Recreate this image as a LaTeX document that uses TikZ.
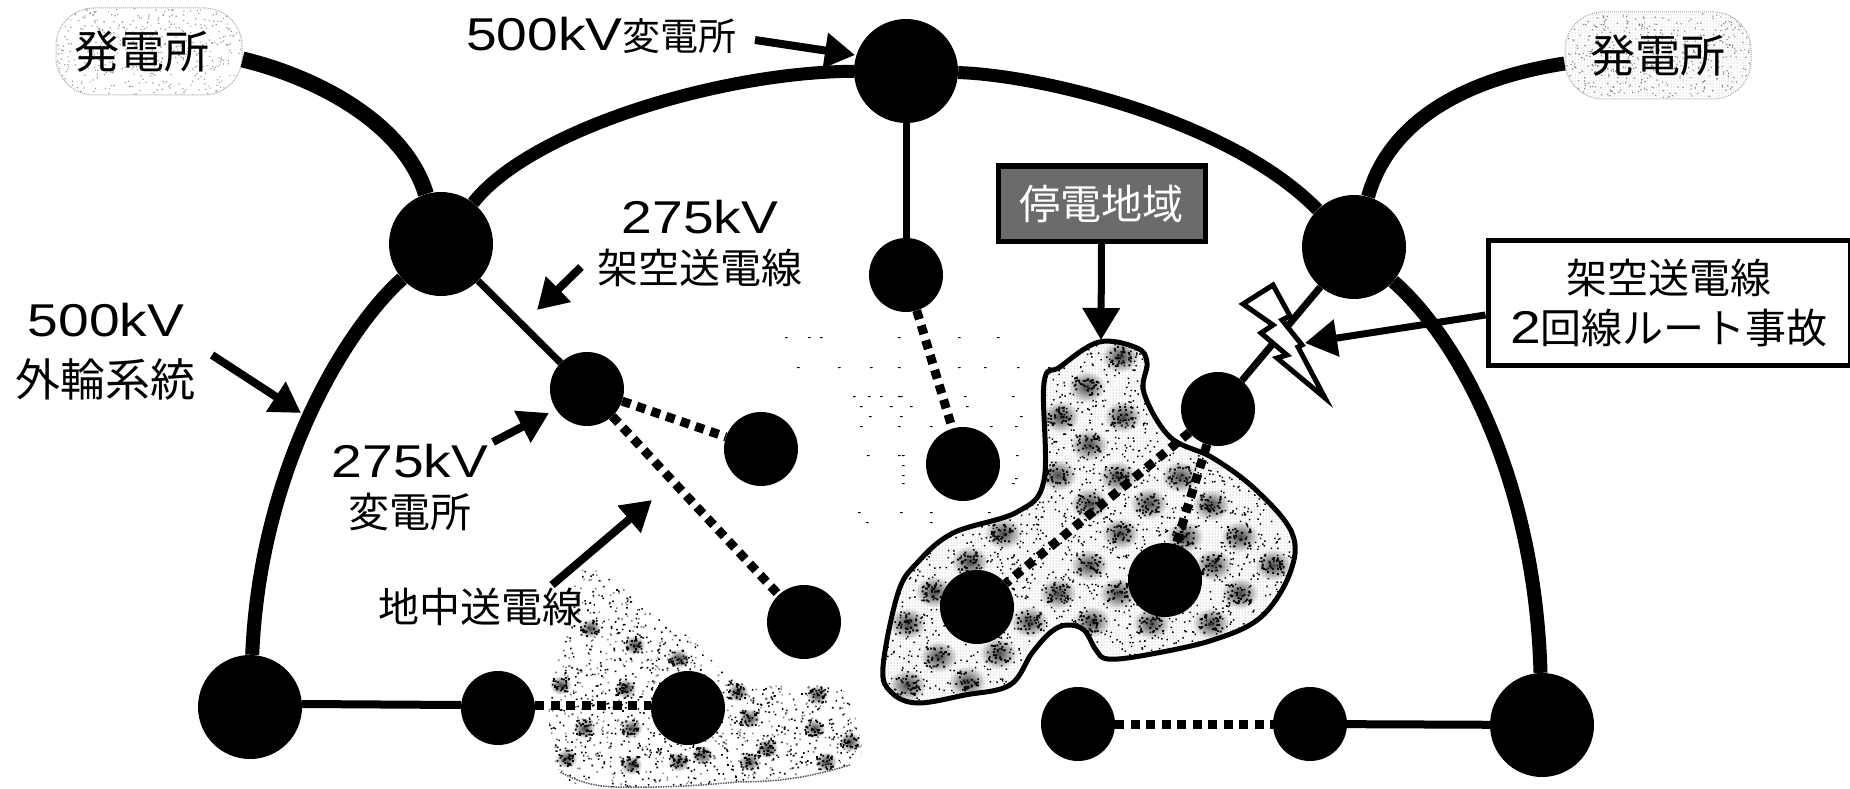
\documentclass[tikz,border=0pt]{standalone}
\usepackage{fontspec}
\setmainfont{Noto Sans CJK JP}
\newfontfamily\latf{Liberation Sans}[FakeStretch=1.2]
\usetikzlibrary{arrows.meta,calc,patterns}
\newcommand{\lv}[1]{{\latf\fontsize{46}{50}\selectfont #1}}
\tikzset{
  bigsub/.style={circle,fill=black,inner sep=0pt,minimum size=104pt},
  sub/.style={circle,fill=black,inner sep=0pt,minimum size=74pt},
  gen/.style={rectangle,rounded corners=38pt,draw=black!35,densely dotted,line width=1pt,inner sep=0pt,minimum width=186pt,minimum height=87pt,font=\fontsize{45}{50}\selectfont},
  lab/.style={align=center,inner sep=0pt,font=\fontsize{41}{50}\selectfont},
  main/.style={line width=14pt},
  feeder/.style={line width=7pt},
  cable/.style={line width=9pt,dash pattern=on 9pt off 6.5pt},
  callout/.style={line width=8pt,-{Triangle[length=30pt,width=34pt]}},
  patch/.style={inner color=black!75,outer color=white},
}
\def\blobone{plot[smooth cycle,tension=.6] coordinates {(1099,342)(1137,348)(1147,363)(1144,393)(1170,437)(1213,458)(1256,490)(1292,533)(1290,573)(1261,617)(1213,640)(1146,655)(1108,659)(1096,650)(1084,630)(1067,625)(1051,632)(1032,653)(1010,685)(965,695)(917,703)(891,692)(883,667)(898,593)(917,563)(953,533)(1017,512)(1044,480)(1044,383)(1060,367)}}
\def\blobtwo{plot[smooth cycle,tension=.6] coordinates {(581,570)(614,582)(655,615)(690,638)(720,668)(749,685)(838,688)(858,728)(850,765)(737,782)(614,787)(560,772)(549,695)(566,628)}}
\begin{document}
\begin{tikzpicture}[x=1pt,y=-1pt]
\useasboundingbox (0,0) rectangle (1850,789);
\fill[white] (0,0) rectangle (1850,789);
\pgfmathsetseed{11}
% generator speckle
\begin{scope}
\clip[rounded corners=38pt] (56,8) rectangle (242,95);
\fill[black!40] \foreach \i in {1,...,500}{ ({56+186*rnd},{8+87*rnd}) rectangle ++(1.2,1.2) };
\end{scope}
\begin{scope}
\clip[rounded corners=38pt] (1565,13) rectangle (1751,98);
\fill[pattern=dots,pattern color=black!35] (1565,13) rectangle (1751,98);
\fill[black!50] \foreach \i in {1,...,500}{ ({1565+186*rnd},{13+85*rnd}) rectangle ++(1.2,1.2) };
\end{scope}
% faint residue dots
\fill[black] \foreach \x/\y in {785/337,808/337,820/337,898/337,958/337,997/337,797/367,838/367,870/367,898/367,958/367,984/367,1017/367,1048/367,853/396,868/396,880/396,898/396,900/396,964/396,1012/396,860/406,890/406,910/406,966/406,869/416,900/416,1020/416,860/426,898/426,930/426,990/426,1015/426,867/455,898/455,902/455,1016/455,902/465,902/475,902/483,858/512,900/512,930/512,988/512,866/522,930/522,1015/478,1012/483}{ (\x,\y) rectangle ++(2.5,1) };
% outage area
\begin{scope}
\clip \blobone;
\foreach \zx/\zy in {565/110,495/200,440/290,570/290,500/375,435/465,560/470,690/470,500/550,625/550,755/555,320/640,565/640,700/650,815/650,250/725,500/735,760/735,885/735,175/815,435/820,560/820,815/820,120/910,375/905,505/905,630/910,755/910,185/1010,310/1000,120/1095,245/1085}{
  \shade[patch] ({850+.478*\zx},{320+\zy/3}) ellipse (19 and 16);
  \fill[black] \foreach \i in {1,...,30}{ ({850+.478*\zx+24*(rnd-.5)-1},{320+\zy/3+20*(rnd-.5)-1}) rectangle ++(2,2) };
}
\fill[pattern=dots,pattern color=black!45] (880,340) rectangle (1300,710);
\fill[black] \foreach \i in {1,...,3000}{ ({880+420*rnd},{340+370*rnd}) rectangle ++(1.5,1.5) };
\end{scope}
\draw[line width=5pt,line join=round] \blobone;
% underground-cable area
\begin{scope}
\clip \blobtwo;
\foreach \zx/\zy in {1000/700,1075/750,1150/790,950/870,1060/880,990/1000,1070/1000,1270/970,1385/900,1250/890,960/1090,1070/1110,1150/1100,1270/1100,1400/1100,1300/1060,1380/1000,1190/1080,1440/1040}{
  \shade[patch] ({.59*\zx},{395+\zy/3}) ellipse (11 and 10);
  \fill[black] \foreach \i in {1,...,30}{ ({.59*\zx+18*(rnd-.5)-1},{395+\zy/3+16*(rnd-.5)-1}) rectangle ++(1.8,1.8) };
}
\fill[black] \foreach \i in {1,...,1200}{ ({545+320*rnd},{565+225*rnd}) rectangle ++(1.6,1.6) };
\fill[black!50] \foreach \i in {1,...,800}{ ({545+320*rnd},{565+225*rnd}) rectangle ++(1.6,1.6) };
\end{scope}
\draw[line width=1.5pt,black!65,densely dotted] (850,765) to[bend left=8] (737,782) to[bend left=3] (614,787) to[bend left=12] (560,772);
% nodes
\node[bigsub] (top) at (906,71) {};
\node[bigsub] (nl) at (441,244) {};
\node[bigsub] (nr) at (1354,247) {};
\node[bigsub] (bl) at (250,707) {};
\node[bigsub] (br) at (1542,725) {};
\node[sub] (a) at (587,389) {};
\node[sub] (b) at (761,449) {};
\node[sub] (c) at (804,622) {};
\node[sub] (d) at (498,708) {};
\node[sub] (e) at (688,708) {};
\node[sub] (f) at (906,275) {};
\node[sub] (g) at (963,464) {};
\node[sub] (h) at (1218,409) {};
\node[sub] (i) at (977,607) {};
\node[sub] (j) at (1165,580) {};
\node[sub] (k) at (1078,724) {};
\node[sub] (l) at (1310,724) {};
\node[gen] (gl) at (149,51.5) {\kern-14pt\raisebox{-9pt}{発電所}};
\node[gen] (gr) at (1658,55.5) {\raisebox{-13pt}{発電所}};
% 500 kV lines
\draw[line width=16pt] (gl.east) ++(0,8) coordinate (gle) (gle) .. controls (320,78) and (405,125) .. (nl);
\draw[line width=13pt] (nl) .. controls (530,130) and (720,72) .. (top);
\draw[line width=13pt] (top) .. controls (1040,75) and (1230,120) .. (nr);
\draw[main] (gr.west) ++(0,8) coordinate (gre) (gre) .. controls (1470,78) and (1390,118) .. (nr);
\draw[main] (nr) .. controls (1460,340) and (1535,480) .. (br);
\draw[main] (nl) .. controls (345,330) and (260,470) .. (bl);
% 275 kV lines
\draw[feeder] (nl) -- (a);
\draw[feeder] (top) -- (f);
\draw[line width=8pt] ([yshift=3pt]bl.east) -- ([yshift=3pt]d.west);
\draw[feeder] (nr) -- (h);
\draw[line width=8pt] (l) -- (br);
% cables
\draw[cable] (a) -- (b);
\draw[cable] (a) -- (c);
\draw[cable] ([yshift=3pt]d.east) -- ([yshift=3pt]e.west);
\draw[cable] (f) -- (g);
\draw[cable] (h) -- (i);
\draw[cable] (h) -- (j);
\draw[cable] (k) -- (l);
% lightning
\draw[fill=white,line width=5pt,line join=miter,miter limit=8] (1273,285) -- (1243,304) -- (1273,325) -- (1261,333) -- (1287,355) -- (1277,358) -- (1325,398) -- (1298,347) -- (1302,345) -- (1282,320) -- (1290,316) -- cycle;
% labels and boxes
\node[lab,anchor=east,font=\fontsize{38}{50}\selectfont] (l500s) at (737,35) {\lv{500kV}変電所};
\node[lab] (l275o) at (700,243) {\lv{275kV}\\架空送電線};
\node[lab,font=\fontsize{45}{60}\selectfont] (l500o) at (106,352) {\lv{500kV}\\外輪系統};
\node[lab] (l275s) at (410,488) {\lv{275kV}\\変電所};
\node[lab] (lug) at (481,607) {地中送電線};
\node[draw=black,line width=5pt,fill=black!58,text=white,lab,minimum width=207pt,minimum height=75pt] (outage) at (1101.5,203.5) {停電地域};
\node[draw=black,line width=5pt,fill=white,lab,minimum width=362pt,minimum height=125pt] (fault) at (1669,302.5) {架空送電線\\\fontsize{41}{50}\selectfont\lv{2}回線ルート事故};
% callouts
\coordinate (c1) at (755,40);
\coordinate (t1) at (855,55);
\coordinate (c2) at (581,267);
\coordinate (t2) at (537,310);
\coordinate (c3) at (212,355);
\coordinate (t3) at (301,413);
\coordinate (c4) at (493,442);
\coordinate (t4) at (549,413);
\coordinate (c5) at (552,585);
\coordinate (t5) at (652,500);
\coordinate (t6) at (1101,340);
\coordinate (t7) at (1305,343);
\draw[callout] (c1) -- (t1);
\draw[callout] (c2) -- (t2);
\draw[callout] (c3) -- (t3);
\draw[callout] (c4) -- (t4);
\draw[callout] (c5) -- (t5);
\draw[line width=7pt,-{Triangle[length=32pt,width=36pt]}] (outage.south) -- (t6);
\draw[line width=7pt,-{Triangle[length=32pt,width=36pt]}] (fault.west |- 0,315) coordinate (fs) (fs) -- (t7);
\end{tikzpicture}
\end{document}
